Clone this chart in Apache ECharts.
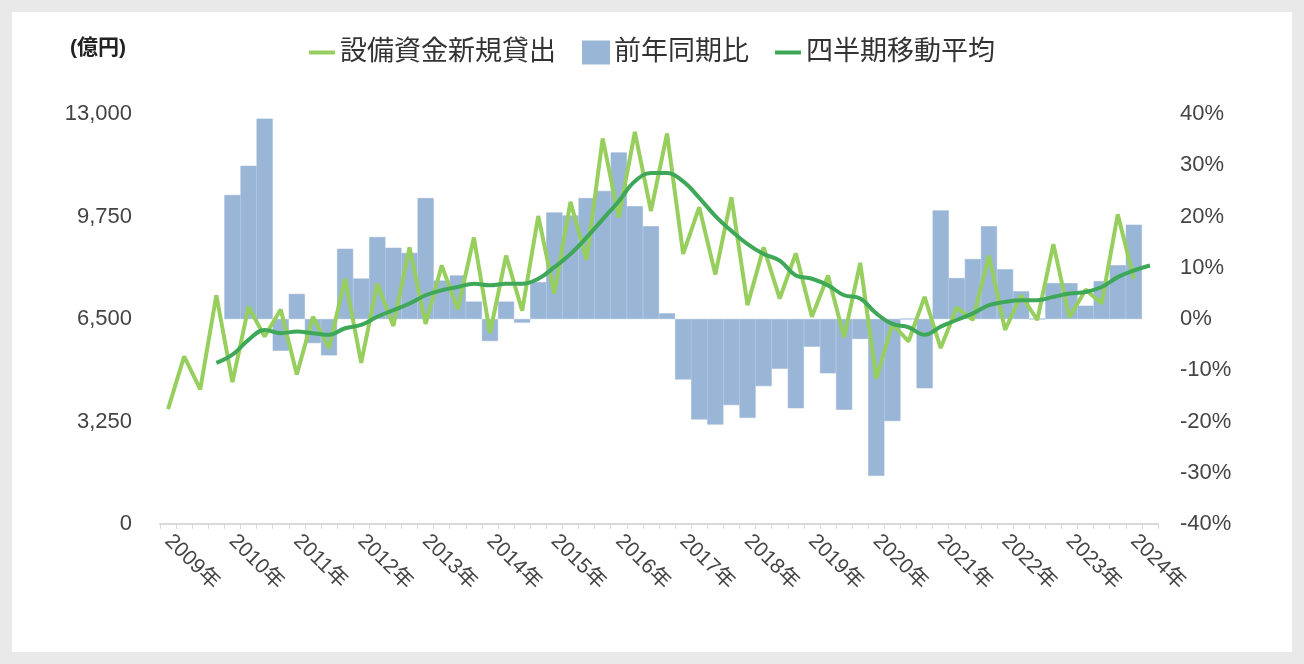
<!DOCTYPE html>
<html>
<head>
<meta charset="utf-8">
<script src="https://cdn.jsdelivr.net/npm/echarts@6/dist/echarts.min.js"></script>
<style>
html,body{margin:0;padding:0;background:#e9e9e9;}
#wrap{position:absolute;left:12px;top:12px;width:1280px;height:640px;background:#fff;}
#chart{width:1304px;height:664px;position:absolute;left:-12px;top:-12px;}
</style>
</head>
<body>
<div id="wrap"><div id="chart"></div></div>
<script>
// 四半期: 2009年Q1 〜 2024年Q2
var years = ['2009年','2010年','2011年','2012年','2013年','2014年','2015年','2016年','2017年','2018年','2019年','2020年','2021年','2022年','2023年','2024年'];
var categories = [];
years.forEach(function (y) { for (var q = 1; q <= 4; q++) categories.push(y); });
categories = categories.slice(0, 62);

// 設備資金新規貸出 (億円)
var loans = [3642,5317,4270,7253,4500,6887,5945,6804,4741,6573,5579,7777,5108,7620,6280,8771,
  6343,8195,6804,9085,6050,8509,6761,9765,7306,10215,8373,12225,9713,12434,9922,12382,
  8562,10048,7913,10362,6939,8771,7149,8583,6573,7881,5924,8279,4605,6343,5788,7201,
  5579,6866,6468,8509,6154,7253,6468,8876,6552,7431,6992,9818,7777,null];

// 前年同期比 (%)
var yoy = [null,null,null,null,24.2,29.9,39.1,-6.2,4.9,-4.7,-7.1,13.7,7.9,16,13.9,12.9,
  23.6,7.5,8.5,3.4,-4.3,3.4,-0.7,7.2,20.8,20.2,23.6,25,32.5,22,18.1,1.1,
  -11.8,-19.6,-20.6,-16.8,-19.3,-13.1,-9.7,-17.4,-5.4,-10.6,-17.7,-3.9,-30.6,-19.9,0,-13.5,
  21.2,8,11.7,18.1,9.7,5.4,0,7,7,2.6,7.4,10.5,18.4,null];

// 四半期移動平均 (億円)
var movingAvg = [null,null,null,5108,5369,5840,6154,6050,6101,6050,5997,6207,6311,6573,6782,6992,
  7253,7410,7515,7620,7567,7620,7620,7777,8143,8562,9085,9661,10236,10864,11126,11126,
  10864,10341,9765,9294,8876,8562,8352,7881,7777,7567,7253,7149,6678,6343,6239,5997,
  6259,6468,6678,6939,7043,7096,7096,7201,7306,7357,7515,7828,8038,8195];

var font = '"Liberation Sans", "Noto Sans CJK JP", sans-serif';
var chart = echarts.init(document.getElementById('chart'));
chart.setOption({
  animation: false,
  textStyle: { fontFamily: font },
  graphic: [{
    type: 'text', left: 70, top: 38,
    style: { text: '(億円)', fontSize: 21, fontWeight: 'bold', fill: '#222', fontFamily: font }
  }],
  legend: {
    top: 34, left: 'center', itemGap: 26, itemWidth: 26, itemHeight: 22,
    textStyle: { fontSize: 27, color: '#333', fontFamily: font },
    data: [
      { name: '設備資金新規貸出', icon: 'path://M0,9 L26,9 L26,13 L0,13 Z' },
      { name: '前年同期比', icon: 'rect' },
      { name: '四半期移動平均', icon: 'path://M0,9 L26,9 L26,13 L0,13 Z' }
    ]
  },
  grid: { left: 160, right: 146, top: 114, bottom: 140 },
  xAxis: {
    type: 'category', data: categories, boundaryGap: true,
    axisLine: { lineStyle: { color: '#d9d9d9', width: 2 } },
    axisTick: { show: true, interval: 0, lineStyle: { color: '#d9d9d9' } },
    axisLabel: {
      interval: function (i) { return i % 4 === 0; },
      rotate: -45, fontSize: 21, color: '#444', margin: 14, fontFamily: font
    }
  },
  yAxis: [{
    type: 'value', min: 0, max: 13000, interval: 3250,
    axisLine: { show: false }, axisTick: { show: false }, splitLine: { show: false },
    axisLabel: { fontSize: 22, color: '#444', margin: 28, formatter: function (v) { return v.toLocaleString('en-US'); } }
  }, {
    type: 'value', min: -40, max: 40, interval: 10, position: 'right',
    axisLine: { show: false }, axisTick: { show: false }, splitLine: { show: false },
    axisLabel: { fontSize: 22, color: '#444', margin: 22, formatter: '{value}%' }
  }],
  series: [{
    name: '前年同期比', type: 'bar', yAxisIndex: 1, data: yoy,
    barCategoryGap: 0, itemStyle: { color: '#9ab6d6', borderColor: '#9ab6d6', borderWidth: 0.6 }, z: 1
  }, {
    name: '設備資金新規貸出', type: 'line', yAxisIndex: 0, data: loans,
    symbol: 'none', lineStyle: { color: '#97cf5e', width: 4 }, itemStyle: { color: '#97cf5e' }, z: 3
  }, {
    name: '四半期移動平均', type: 'line', yAxisIndex: 0, data: movingAvg,
    symbol: 'none', smooth: 0.4, lineStyle: { color: '#3ea858', width: 4 }, itemStyle: { color: '#3ea858' }, z: 4
  }]
});
</script>
</body>
</html>
